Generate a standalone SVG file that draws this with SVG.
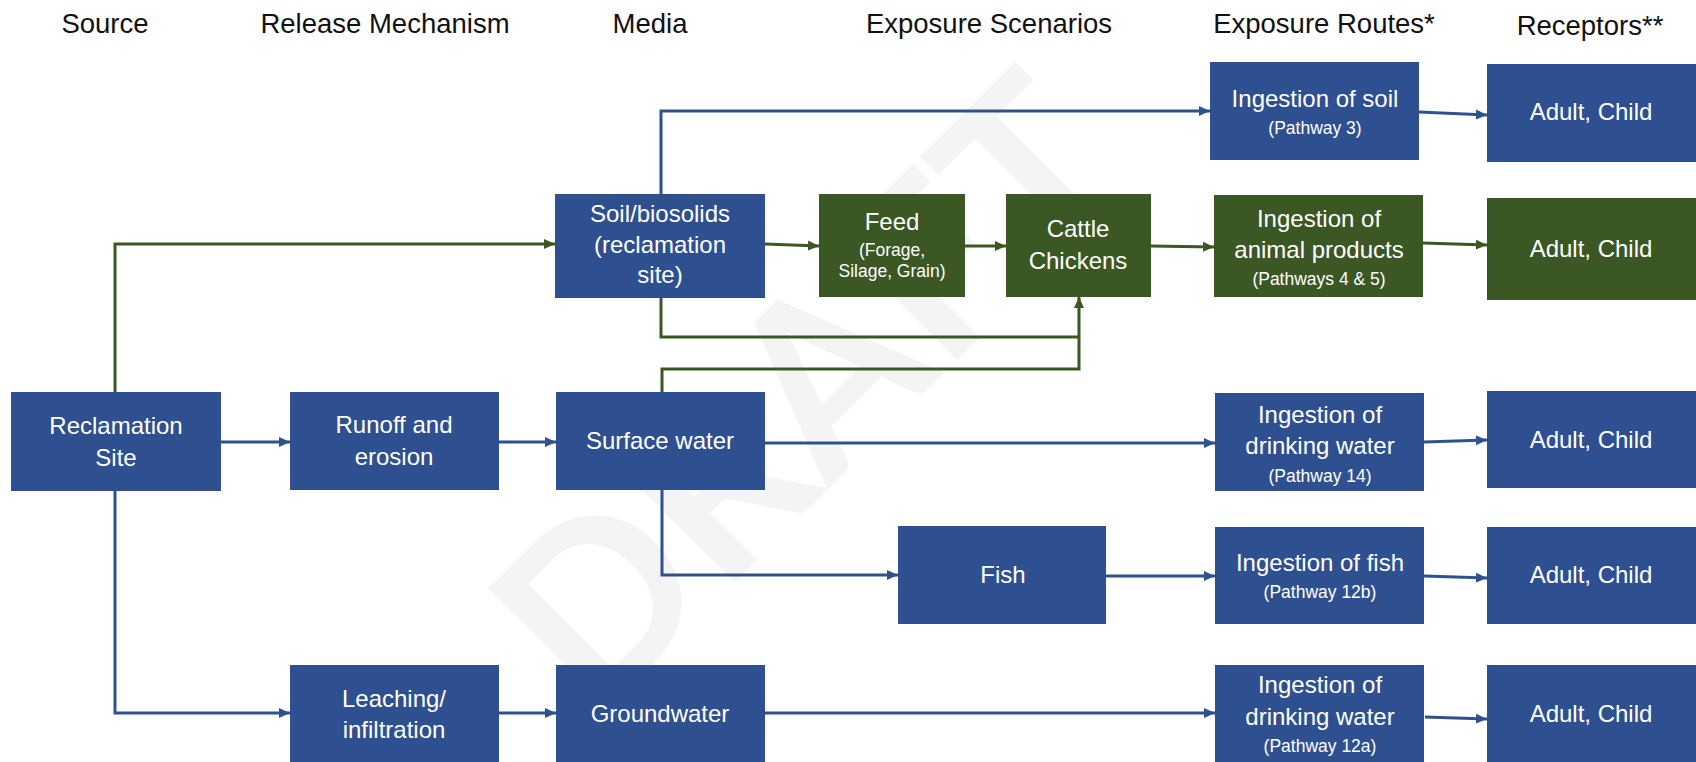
<svg xmlns="http://www.w3.org/2000/svg" width="1696" height="762" viewBox="0 0 1696 762">
<defs>
<style>
.hdr{font-family:"Liberation Sans",Arial,sans-serif;font-size:27.5px;fill:#111;text-anchor:middle}
.bt{font-family:"Liberation Sans",Arial,sans-serif;font-size:24px;fill:#fff;text-anchor:middle}
.st{font-family:"Liberation Sans",Arial,sans-serif;font-size:17.5px;fill:#fff;text-anchor:middle}
.blue{fill:#2F5090}
.green{fill:#3A5724}
.lb{fill:none;stroke:#2F528F;stroke-width:3;marker-end:url(#ab)}
.lg{fill:none;stroke:#3A5724;stroke-width:3;marker-end:url(#ag)}
.lbn{fill:none;stroke:#2F528F;stroke-width:3}
.lgn{fill:none;stroke:#3A5724;stroke-width:3}
.wm{font-family:Lato,"Liberation Sans",sans-serif;font-weight:bold;font-size:235px;fill:#f4f4f4}
</style>
<marker id="ab" markerUnits="userSpaceOnUse" markerWidth="12" markerHeight="12" viewBox="0 0 12 12" refX="11" refY="6" orient="auto">
<path d="M0,1 L11,6 L0,11 Z" fill="#2F528F"/>
</marker>
<marker id="ag" markerUnits="userSpaceOnUse" markerWidth="12" markerHeight="12" viewBox="0 0 12 12" refX="11" refY="6" orient="auto">
<path d="M0,1 L11,6 L0,11 Z" fill="#3A5724"/>
</marker>
</defs>
<rect width="1696" height="762" fill="#fff"/>
<text class="wm" transform="translate(595,722) rotate(-45)">DRAFT</text>

<g id="headers">
<text class="hdr" x="105" y="33">Source</text>
<text class="hdr" x="385" y="33">Release Mechanism</text>
<text class="hdr" x="650" y="33">Media</text>
<text class="hdr" x="989" y="33">Exposure Scenarios</text>
<text class="hdr" x="1324" y="33">Exposure Routes*</text>
<text class="hdr" x="1590" y="35">Receptors**</text>
</g>

<g id="connectors">
<path class="lb" d="M221,442 H290"/>
<path class="lb" d="M499,442 H556"/>
<path class="lb" d="M115,491 V713 H290"/>
<path class="lb" d="M499,713 H556"/>
<path class="lg" d="M115,392 V244 H555"/>
<path class="lb" d="M661,194 V111 H1210"/>
<path class="lb" d="M1419,112 L1487,115"/>
<path class="lg" d="M765,244 L819,246"/>
<path class="lg" d="M965,246 H1006"/>
<path class="lg" d="M1151,246 L1214,247"/>
<path class="lg" d="M1423,243 L1487,245"/>
<path class="lgn" d="M661,298 V337 H1079"/>
<path class="lg" d="M662,392 V369 H1079 V297"/>
<path class="lb" d="M765,443 H1215"/>
<path class="lb" d="M1424,442 L1487,440"/>
<path class="lb" d="M662,490 V575 H898"/>
<path class="lb" d="M1106,576 H1215"/>
<path class="lb" d="M1424,576 L1487,578"/>
<path class="lb" d="M765,713 H1215"/>
<path class="lb" d="M1425,717 L1487,719"/>
</g>

<g id="reclamation-site">
<rect class="blue" x="11" y="392" width="210" height="99"/>
<text class="bt" x="116" y="434">Reclamation</text>
<text class="bt" x="116" y="466">Site</text>
</g>
<g id="runoff">
<rect class="blue" x="290" y="392" width="209" height="98"/>
<text class="bt" x="394" y="433">Runoff and</text>
<text class="bt" x="394" y="465">erosion</text>
</g>
<g id="leaching">
<rect class="blue" x="290" y="665" width="209" height="110"/>
<text class="bt" x="394" y="707">Leaching/</text>
<text class="bt" x="394" y="738">infiltration</text>
</g>
<g id="soil">
<rect class="blue" x="555" y="194" width="210" height="104"/>
<text class="bt" x="660" y="222">Soil/biosolids</text>
<text class="bt" x="660" y="253">(reclamation</text>
<text class="bt" x="660" y="283">site)</text>
</g>
<g id="surface-water">
<rect class="blue" x="556" y="392" width="209" height="98"/>
<text class="bt" x="660" y="449">Surface water</text>
</g>
<g id="groundwater">
<rect class="blue" x="556" y="665" width="209" height="110"/>
<text class="bt" x="660" y="722">Groundwater</text>
</g>
<g id="feed">
<rect class="green" x="819" y="194" width="146" height="103"/>
<text class="bt" x="892" y="230">Feed</text>
<text class="st" x="892" y="256">(Forage,</text>
<text class="st" x="892" y="277">Silage, Grain)</text>
</g>
<g id="cattle">
<rect class="green" x="1006" y="194" width="145" height="103"/>
<text class="bt" x="1078" y="237">Cattle</text>
<text class="bt" x="1078" y="269">Chickens</text>
</g>
<g id="fish">
<rect class="blue" x="898" y="526" width="208" height="98"/>
<text class="bt" x="1003" y="583">Fish</text>
</g>
<g id="ing-soil">
<rect class="blue" x="1210" y="62" width="209" height="98"/>
<text class="bt" x="1315" y="107">Ingestion of soil</text>
<text class="st" x="1315" y="134">(Pathway 3)</text>
</g>
<g id="ing-animal">
<rect class="green" x="1214" y="195" width="209" height="102"/>
<text class="bt" x="1319" y="227">Ingestion of</text>
<text class="bt" x="1319" y="258">animal products</text>
<text class="st" x="1319" y="285">(Pathways 4 &amp; 5)</text>
</g>
<g id="ing-dw14">
<rect class="blue" x="1215" y="393" width="209" height="98"/>
<text class="bt" x="1320" y="423">Ingestion of</text>
<text class="bt" x="1320" y="454">drinking water</text>
<text class="st" x="1320" y="482">(Pathway 14)</text>
</g>
<g id="ing-fish">
<rect class="blue" x="1215" y="527" width="209" height="97"/>
<text class="bt" x="1320" y="571">Ingestion of fish</text>
<text class="st" x="1320" y="598">(Pathway 12b)</text>
</g>
<g id="ing-dw12a">
<rect class="blue" x="1215" y="665" width="209" height="110"/>
<text class="bt" x="1320" y="693">Ingestion of</text>
<text class="bt" x="1320" y="725">drinking water</text>
<text class="st" x="1320" y="752">(Pathway 12a)</text>
</g>
<g id="adult-1">
<rect class="blue" x="1487" y="64" width="215" height="98"/>
<text class="bt" x="1591" y="120">Adult, Child</text>
</g>
<g id="adult-2">
<rect class="green" x="1487" y="198" width="215" height="102"/>
<text class="bt" x="1591" y="257">Adult, Child</text>
</g>
<g id="adult-3">
<rect class="blue" x="1487" y="391" width="215" height="97"/>
<text class="bt" x="1591" y="448">Adult, Child</text>
</g>
<g id="adult-4">
<rect class="blue" x="1487" y="527" width="215" height="97"/>
<text class="bt" x="1591" y="583">Adult, Child</text>
</g>
<g id="adult-5">
<rect class="blue" x="1487" y="665" width="215" height="110"/>
<text class="bt" x="1591" y="722">Adult, Child</text>
</g>
</svg>
